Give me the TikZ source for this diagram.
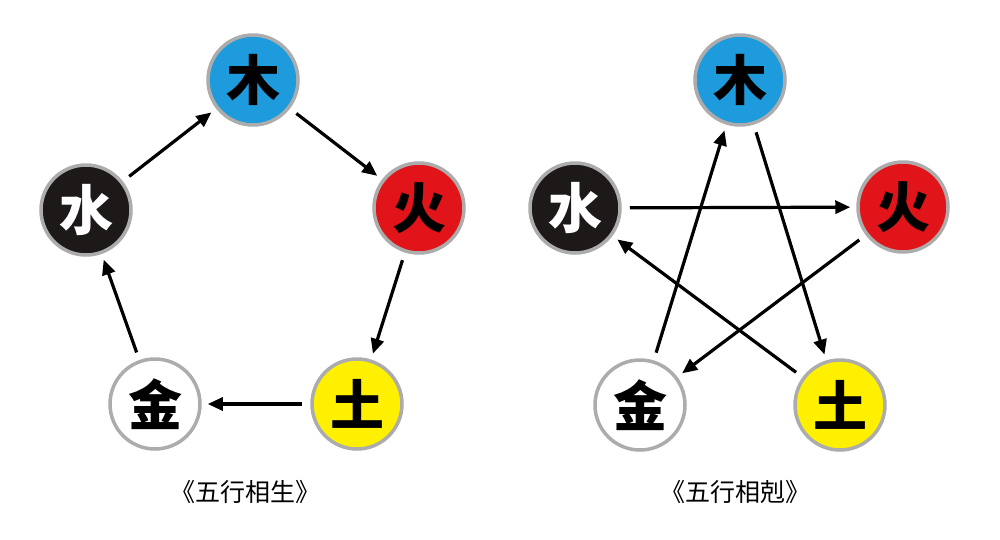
\documentclass[tikz,border=0pt]{standalone}
\usepackage{fontspec}
\newfontfamily\cjk{Noto Sans CJK SC}[BoldFont={* Black}]
\usetikzlibrary{arrows.meta}
\begin{document}
\begin{tikzpicture}[x=1pt,y=-1pt,
  el/.style={circle,draw=gray!65,line width=3.5pt,minimum size=90pt,inner sep=0pt,font=\cjk\bfseries\fontsize{54}{54}\selectfont},
  arr/.style={line width=3.2pt,-{Triangle[length=15pt,width=13pt]},shorten <=8pt,shorten >=6pt},
  captxt/.style={font=\cjk\fontsize{25}{25}\selectfont}]
\useasboundingbox (0,0) rectangle (1000,539);
\definecolor{wblue}{RGB}{30,155,220}
\definecolor{wred}{RGB}{225,20,25}
\definecolor{wyel}{RGB}{255,240,0}
\definecolor{wblk}{RGB}{30,25,25}
% left
\node[el,fill=wblue] (a1) at (253,80) {木};
\node[el,fill=wred] (a2) at (419,208) {火};
\node[el,fill=wyel] (a3) at (357,404) {土};
\node[el,fill=white] (a4) at (155,404) {金};
\node[el,fill=wblk,text=white] (a5) at (86,210) {水};
\draw[arr] (a5) -- (a1);
\draw[arr] (a1) -- (a2);
\draw[arr] (a2) -- (a3);
\draw[arr] (a3) -- (a4);
\draw[arr] (a4) -- (a5);
\node[captxt] (c1) at (245,492) {《五行相生》};
% right
\node[el,fill=wblue] (b1) at (740,80) {木};
\node[el,fill=wred] (b2) at (903,207) {火};
\node[el,fill=wyel] (b3) at (840,405) {土};
\node[el,fill=white] (b4) at (640,405) {金};
\node[el,fill=wblk,text=white] (b5) at (575,208) {水};
\draw[arr] (b1) -- (b3);
\draw[arr] (b3) -- (b5);
\draw[arr] (b5) -- (b2);
\draw[arr] (b2) -- (b4);
\draw[arr] (b4) -- (b1);
\node[captxt] (c2) at (735,492) {《五行相剋》};
\end{tikzpicture}
\end{document}
